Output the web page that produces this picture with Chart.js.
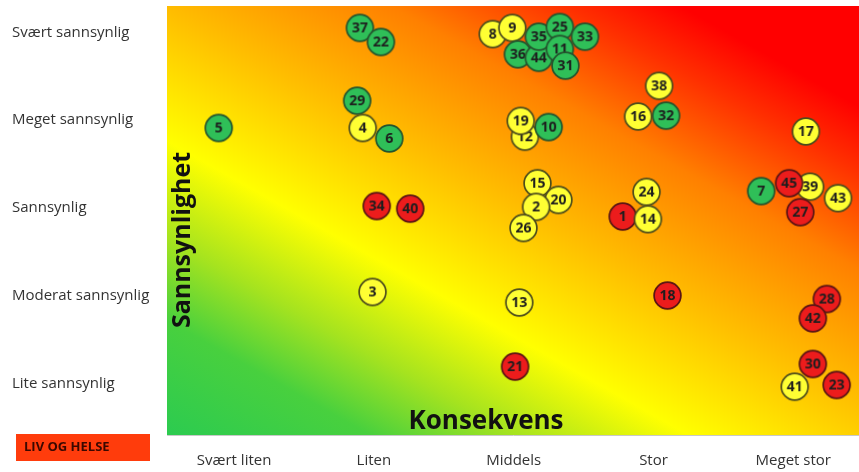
<!DOCTYPE html>
<html>
<head>
<meta charset="utf-8">
<script src="https://cdn.jsdelivr.net/npm/chart.js@4.4.1/dist/chart.umd.min.js"></script>
<style>
  html, body { margin: 0; padding: 0; background: #fff; }
  #wrap { width: 859px; height: 472px; position: relative; }
</style>
</head>
<body>
<div id="wrap"><canvas id="riskChart"></canvas></div>
<script>
// Akser
const consequenceLabels = ['Svært liten', 'Liten', 'Middels', 'Stor', 'Meget stor'];
const probabilityLabels = ['Lite sannsynlig', 'Moderat sannsynlig', 'Sannsynlig', 'Meget sannsynlig', 'Svært sannsynlig'];

// Risikopunkter (tegnerekkefølge: senere ligger over)
const riskIds = [37, 22, 8, 9, 36, 44, 35, 25, 11, 31, 33,
                 29, 4, 6, 12, 19, 10, 38, 16, 32, 5, 17,
                 34, 40, 15, 20, 2, 26, 24, 1, 14, 7, 39, 45, 27, 43,
                 3, 13, 18, 21, 28, 42, 30, 41, 23];
const consequence = [1.90, 2.05, 2.85, 2.99, 3.03, 3.18, 3.18, 3.33, 3.33, 3.37, 3.51,
                     1.88, 1.92, 2.11, 3.08, 3.05, 3.25, 4.04, 3.89, 4.09, 0.89, 5.09,
                     2.02, 2.26, 3.17, 3.32, 3.16, 3.07, 3.95, 3.78, 3.96, 4.77, 5.12, 4.97, 5.05, 5.32,
                     1.99, 3.04, 4.10, 3.01, 5.24, 5.14, 5.14, 5.01, 5.31];
const probability = [5.05, 4.89, 4.98, 5.05, 4.75, 4.71, 4.95, 5.06, 4.81, 4.62, 4.95,
                     4.22, 3.91, 3.79, 3.81, 3.99, 3.92, 4.39, 4.04, 4.05, 3.91, 3.87,
                     3.02, 2.99, 3.28, 3.09, 3.01, 2.77, 3.18, 2.90, 2.87, 3.19, 3.24, 3.28, 2.95, 3.11,
                     2.04, 1.92, 2.00, 1.19, 1.96, 1.74, 1.22, 0.96, 0.98];
const status = ['G', 'G', 'Y', 'Y', 'G', 'G', 'G', 'G', 'G', 'G', 'G',
                'G', 'Y', 'G', 'Y', 'Y', 'G', 'Y', 'Y', 'G', 'G', 'Y',
                'R', 'R', 'Y', 'Y', 'Y', 'Y', 'Y', 'R', 'Y', 'G', 'Y', 'R', 'R', 'Y',
                'Y', 'Y', 'R', 'R', 'R', 'R', 'R', 'Y', 'R'];

const statusFill = { G: '#2fbf58', Y: '#ffff33', R: '#ec1c1c' };
const statusEdge = { G: '#24542e', Y: '#4d4d1c', R: '#5a1414' };

function makeBadge(text, kind) {
    const c = document.createElement('canvas');
    c.width = 31; c.height = 31;
    const g = c.getContext('2d');
    g.beginPath();
    g.arc(15.5, 15.5, 13.4, 0, Math.PI * 2);
    g.fillStyle = statusFill[kind];
    g.fill();
    g.lineWidth = 1.7;
    g.strokeStyle = statusEdge[kind];
    g.stroke();
    g.fillStyle = '#1e1e1e';
    g.font = 'bold 14px "Open Sans", sans-serif';
    g.textAlign = 'center';
    g.textBaseline = 'middle';
    g.fillText(String(text), 15.5, 16.5);
    return c;
}

const badges = riskIds.map((id, i) => makeBadge(id, status[i]));

const backdrop = {
    id: 'backdrop',
    beforeDatasetsDraw(chart) {
        const { ctx, chartArea: a } = chart;
        const w = a.right - a.left, h = a.bottom - a.top;
        // grønn nede til venstre, rød oppe til høyre
        const dx = 0.49, dy = -0.87;
        const proj = w * dx + (-h) * dy;
        const x1 = a.left + dx * proj, y1 = a.bottom + dy * proj;
        const grad = ctx.createLinearGradient(a.left, a.bottom, x1, y1);
        grad.addColorStop(0.00, '#2ccb50');
        grad.addColorStop(0.14, '#48d03e');
        grad.addColorStop(0.24, '#a5e31f');
        grad.addColorStop(0.36, '#ffff00');
        grad.addColorStop(0.52, '#ffbe00');
        grad.addColorStop(0.68, '#ff8000');
        grad.addColorStop(0.80, '#ff3000');
        grad.addColorStop(0.88, '#ff0000');
        grad.addColorStop(1.00, '#ff0000');
        ctx.save();
        ctx.fillStyle = grad;
        ctx.fillRect(a.left, a.top, w, h);

        ctx.fillStyle = '#111';
        ctx.textAlign = 'center';
        ctx.textBaseline = 'middle';
        ctx.font = 'bold 26px "Open Sans", sans-serif';
        ctx.fillText('Konsekvens', 486, 422);
        ctx.font = 'bold 25px "Open Sans", sans-serif';
        ctx.translate(183, 240);
        ctx.rotate(-Math.PI / 2);
        ctx.fillText('Sannsynlighet', 0, 0);
        ctx.restore();
    },
    afterDraw(chart) {
        const ctx = chart.ctx;
        ctx.save();
        ctx.fillStyle = '#ff3c0c';
        ctx.fillRect(16, 434, 134, 27);
        ctx.fillStyle = '#3a0800';
        ctx.font = 'bold 13px "Open Sans", sans-serif';
        ctx.textAlign = 'left';
        ctx.textBaseline = 'middle';
        ctx.fillText('LIV OG HELSE', 24, 447.5);
        ctx.restore();
    }
};

const ctx = document.getElementById('riskChart').getContext('2d');

const chart = new Chart(ctx, {
    type: 'scatter',
    data: {
        datasets: [{
            label: 'Risiko',
            data: riskIds.map((id, i) => ({ x: consequence[i], y: probability[i] })),
            pointStyle: badges,
            pointRadius: 14,
            pointHoverRadius: 14
        }]
    },
    options: {
        responsive: true,
        maintainAspectRatio: false,
        animation: false,
        layout: { autoPadding: false, padding: { left: 12, top: 6, right: 0, bottom: 0 } },
        plugins: {
            legend: { display: false },
            tooltip: { enabled: false }
        },
        scales: {
            x: {
                type: 'linear',
                min: 0.52,
                max: 5.47,
                afterBuildTicks: axis => { axis.ticks = [1, 2, 3, 4, 5].map(v => ({ value: v })); },
                afterFit: axis => {
                    axis.height = 37;
                    axis.paddingLeft = 0;
                    axis.paddingRight = 0;
                },
                ticks: {
                    padding: 9,
                    color: '#333',
                    font: { family: '"Open Sans", sans-serif', size: 15 },
                    callback: v => consequenceLabels[v - 1]
                },
                grid: { display: false },
                border: { display: true, color: '#c8c8c8', dash: [1, 1] }
            },
            y: {
                type: 'linear',
                min: 0.41,
                max: 5.30,
                afterBuildTicks: axis => { axis.ticks = [1, 2, 3, 4, 5].map(v => ({ value: v })); },
                afterFit: axis => {
                    axis.width = 155;
                    axis.paddingTop = 0;
                    axis.paddingBottom = 0;
                },
                ticks: {
                    crossAlign: 'far',
                    color: '#333',
                    font: { family: '"Open Sans", sans-serif', size: 15 },
                    callback: v => probabilityLabels[v - 1]
                },
                grid: { display: false },
                border: { display: true, color: '#d0d0d0', dash: [1, 1] }
            }
        }
    },
    plugins: [backdrop]
});
</script>
</body>
</html>
